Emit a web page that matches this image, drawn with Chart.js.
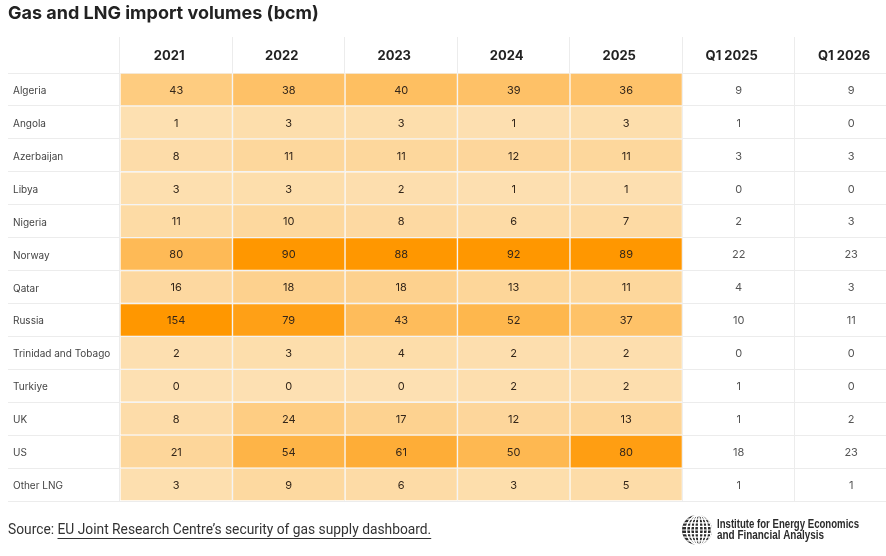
<!DOCTYPE html>
<html>
<head>
<meta charset="utf-8">
<script src="https://cdn.jsdelivr.net/npm/chart.js@4.4.1/dist/chart.umd.min.js"></script>
<style>
  html, body { margin: 0; padding: 0; background: #fff; }
  #wrap { width: 886px; height: 556px; position: relative; }
</style>
</head>
<body>
<div id="wrap"><canvas id="c" width="886" height="556"></canvas></div>
<script>
const titleText = 'Gas and LNG import volumes (bcm)';
const countries = ['Algeria', 'Angola', 'Azerbaijan', 'Libya', 'Nigeria', 'Norway', 'Qatar', 'Russia', 'Trinidad and Tobago', 'Turkiye', 'UK', 'US', 'Other LNG'];
const columnLabels = ['2021', '2022', '2023', '2024', '2025', 'Q1 2025', 'Q1 2026'];
const v2021 = [43, 1, 8, 3, 11, 80, 16, 154, 2, 0, 8, 21, 3];
const v2022 = [38, 3, 11, 3, 10, 90, 18, 79, 3, 0, 24, 54, 9];
const v2023 = [40, 3, 11, 2, 8, 88, 18, 43, 4, 0, 17, 61, 6];
const v2024 = [39, 1, 12, 1, 6, 92, 13, 52, 2, 2, 12, 50, 3];
const v2025 = [36, 3, 11, 1, 7, 89, 11, 37, 2, 2, 13, 80, 5];
const vQ12025 = [9, 1, 3, 0, 2, 22, 4, 10, 0, 1, 1, 18, 1];
const vQ12026 = [9, 0, 3, 0, 3, 23, 3, 11, 0, 0, 2, 23, 1];
const columnValues = [v2021, v2022, v2023, v2024, v2025, vQ12025, vQ12026];
const heatColumns = [true, true, true, true, true, false, false];
const sourcePrefix = 'Source: ';
const sourceLink = 'EU Joint Research Centre\u2019s security of gas supply dashboard.';
const logoLines = ['Institute for Energy Economics', 'and Financial Analysis'];

const LIGHT = [253, 224, 178];
const DARK = [255, 151, 0];
function heat(v, max) {
  const t = max > 0 ? v / max : 0;
  const c = LIGHT.map((l, k) => Math.round(l + (DARK[k] - l) * t));
  return `rgb(${c[0]},${c[1]},${c[2]})`;
}

const datasets = columnValues.map((vals, ci) => {
  const max = Math.max(...vals);
  return {
    label: columnLabels[ci],
    data: vals.map(() => [ci, ci + 1]),
    values: vals,
    backgroundColor: heatColumns[ci] ? vals.map(v => heat(v, max)) : 'rgba(0,0,0,0)',
    borderColor: heatColumns[ci] ? 'rgba(255,255,255,0.35)' : 'rgba(0,0,0,0)',
    borderWidth: heatColumns[ci] ? 1 : 0,
    borderSkipped: false,
    barPercentage: 1,
    categoryPercentage: 1,
    grouped: false
  };
});

const FONT = 'Inter, "Noto Sans", sans-serif';

function fitText(ctx, text, x, y, width) {
  const w = ctx.measureText(text).width;
  const s = Math.min(1, width / w);
  ctx.save();
  ctx.translate(x, y);
  ctx.scale(s, 1);
  ctx.fillText(text, 0, 0);
  ctx.restore();
}

const decor = {
  id: 'decor',
  afterDatasetsDraw(chart) {
    const ctx = chart.ctx;
    ctx.save();
    ctx.textAlign = 'center';
    ctx.textBaseline = 'middle';
    chart.data.datasets.forEach((ds, di) => {
      const meta = chart.getDatasetMeta(di);
      meta.data.forEach((bar, i) => {
        const cx = (bar.x + bar.base) / 2;
        ctx.font = '11px ' + FONT;
        ctx.fillStyle = heatColumns[di] ? '#33261a' : '#555';
        ctx.fillText(String(ds.values[i]), cx, bar.y + 1);
      });
    });
    ctx.restore();
  },
  afterDraw(chart) {
    const ctx = chart.ctx;
    ctx.save();
    // title
    ctx.font = 'bold 18px ' + FONT;
    ctx.fillStyle = '#222';
    ctx.textAlign = 'left';
    ctx.textBaseline = 'middle';
    ctx.fillText(titleText, 8, 14);
    // source
    ctx.font = '13.8px Roboto, "Noto Sans", sans-serif';
    ctx.fillStyle = '#333';
    ctx.fillText(sourcePrefix, 8, 531);
    const pw = ctx.measureText(sourcePrefix).width;
    ctx.fillText(sourceLink, 8 + pw, 531);
    const lw = ctx.measureText(sourceLink).width;
    ctx.strokeStyle = '#333';
    ctx.lineWidth = 1;
    ctx.beginPath();
    ctx.moveTo(8 + pw, 538.5);
    ctx.lineTo(8 + pw + lw, 538.5);
    ctx.stroke();
    // logo globe
    const gx = 697, gy = 530, r = 15;
    ctx.save();
    ctx.beginPath();
    ctx.arc(gx, gy, r, 0, Math.PI * 2);
    ctx.clip();
    ctx.fillStyle = '#2b2b2b';
    ctx.fillRect(gx - r, gy - r, 2 * r, 2 * r);
    ctx.strokeStyle = '#fff';
    ctx.lineWidth = 1.2;
    for (let k = -3; k <= 3; k++) {
      ctx.beginPath();
      ctx.ellipse(gx + 2, gy, Math.abs(k) * 4 + 0.5, r, 0, 0, Math.PI * 2);
      ctx.stroke();
    }
    for (let k = -4; k <= 4; k++) {
      ctx.beginPath();
      ctx.moveTo(gx - r, gy + k * 3.6);
      ctx.lineTo(gx + r, gy + k * 3.6);
      ctx.stroke();
    }
    ctx.restore();
    ctx.font = 'bold 12px "Liberation Sans Narrow", "Liberation Sans", sans-serif';
    ctx.fillStyle = '#2b2b2b';
    ctx.textAlign = 'left';
    ctx.textBaseline = 'middle';
    fitText(ctx, logoLines[0], 717, 525, 142);
    fitText(ctx, logoLines[1], 717, 536, 107);
    ctx.restore();
  }
};

new Chart(document.getElementById('c'), {
  type: 'bar',
  data: { labels: countries, datasets },
  options: {
    indexAxis: 'y',
    responsive: false,
    animation: false,
    layout: { padding: { left: 13, right: 0, top: 37, bottom: 55 } },
    plugins: {
      legend: { display: false },
      tooltip: { enabled: false },
      title: { display: false }
    },
    scales: {
      x: {
        type: 'linear',
        position: 'top',
        min: 0,
        max: 6.81,
        afterBuildTicks(scale) {
          scale.ticks = columnLabels.map((l, i) => ({ value: i + 0.5 }));
        },
        afterFit(scale) { scale.height = 36; },
        border: { display: false },
        grid: { offset: true, color: '#ececec', lineWidth: 1, drawTicks: true, tickLength: 36 },
        ticks: {
          autoSkip: false,
          maxRotation: 0,
          padding: -27,
          labelOffset: -7,
          color: '#222',
          font: { family: FONT, size: 13, weight: 'bold' },
          callback(v, i) { return columnLabels[i]; }
        }
      },
      y: {
        type: 'category',
        offset: true,
        afterFit(scale) { scale.width = 107; },
        border: { display: false },
        grid: { offset: true, color: '#ececec', lineWidth: 1, drawTicks: true, tickLength: 112 },
        ticks: {
          crossAlign: 'far',
          labelOffset: 1.5,
          color: '#444',
          font: { family: FONT, size: 10 }
        }
      }
    }
  },
  plugins: [decor]
});
</script>
</body>
</html>
